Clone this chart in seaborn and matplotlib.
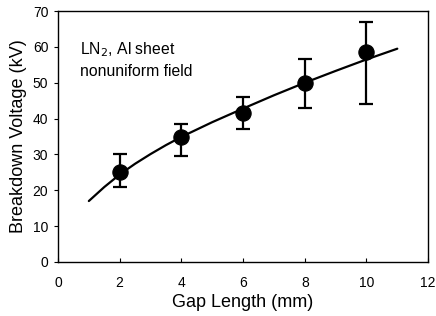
import numpy as np
import pandas as pd
import matplotlib
matplotlib.use("Agg")
import matplotlib.pyplot as plt
import seaborn as sns

# measured points
gap = [2, 4, 6, 8, 10]
voltage = [25, 35, 41.5, 50, 58.5]
err_low = [21, 29.5, 37, 43, 44]
err_high = [30, 38.5, 46, 56.5, 67]

# fitted curve
fit_gap = [1, 1.5, 2, 2.5, 3, 3.5, 4, 5, 6, 7, 8, 9, 10, 11]
fit_voltage = [17, 20.9, 24.4, 27.4, 30.1, 32.6, 34.9, 39, 42.8, 46.5, 50, 53.3, 56.5, 59.5]

sns.set_style("ticks")
plt.rcParams['font.family'] = ['Liberation Sans', 'DejaVu Sans']
plt.rcParams['text.color'] = 'black'
plt.rcParams['axes.labelcolor'] = 'black'
plt.rcParams['xtick.color'] = 'black'
plt.rcParams['ytick.color'] = 'black'

fig = plt.figure(figsize=(4.36, 3.16), dpi=100)
ax = fig.add_axes([0.133, 0.171, 0.849, 0.794])

fit_df = pd.DataFrame({"gap": fit_gap, "voltage": fit_voltage})
sns.lineplot(data=fit_df, x="gap", y="voltage", color="black", lw=1.6, ax=ax)

v = np.array(voltage)
yerr = [v - np.array(err_low), np.array(err_high) - v]
ax.errorbar(gap, voltage, yerr=yerr, fmt="none", ecolor="black",
            elinewidth=1.6, capsize=5, capthick=1.6, zorder=3)

pts = pd.DataFrame({"gap": gap, "voltage": voltage})
sns.scatterplot(data=pts, x="gap", y="voltage", color="black", s=120,
                edgecolor="black", zorder=4, ax=ax)

ax.set_xlim(0, 12)
ax.set_ylim(0, 70)
ax.set_xticks(range(0, 13, 2))
ax.set_yticks(range(0, 71, 10))
ax.tick_params(axis="x", direction="in", length=3, labelsize=10, pad=10)
ax.tick_params(axis="y", direction="out", length=3, labelsize=10, pad=4)
for s in ax.spines.values():
    s.set_color("black")
    s.set_linewidth(1.0)
ax.set_xlabel("Gap Length (mm)", fontsize=13, labelpad=3)
ax.set_ylabel("Breakdown Voltage (kV)", fontsize=13, labelpad=4)

ax.text(0.7, 56.5, "LN$_2$, Al sheet\nnonuniform field", fontsize=11.3,
        va="center", ha="left", linespacing=1.4)

fig.savefig("out.png", dpi=100)
